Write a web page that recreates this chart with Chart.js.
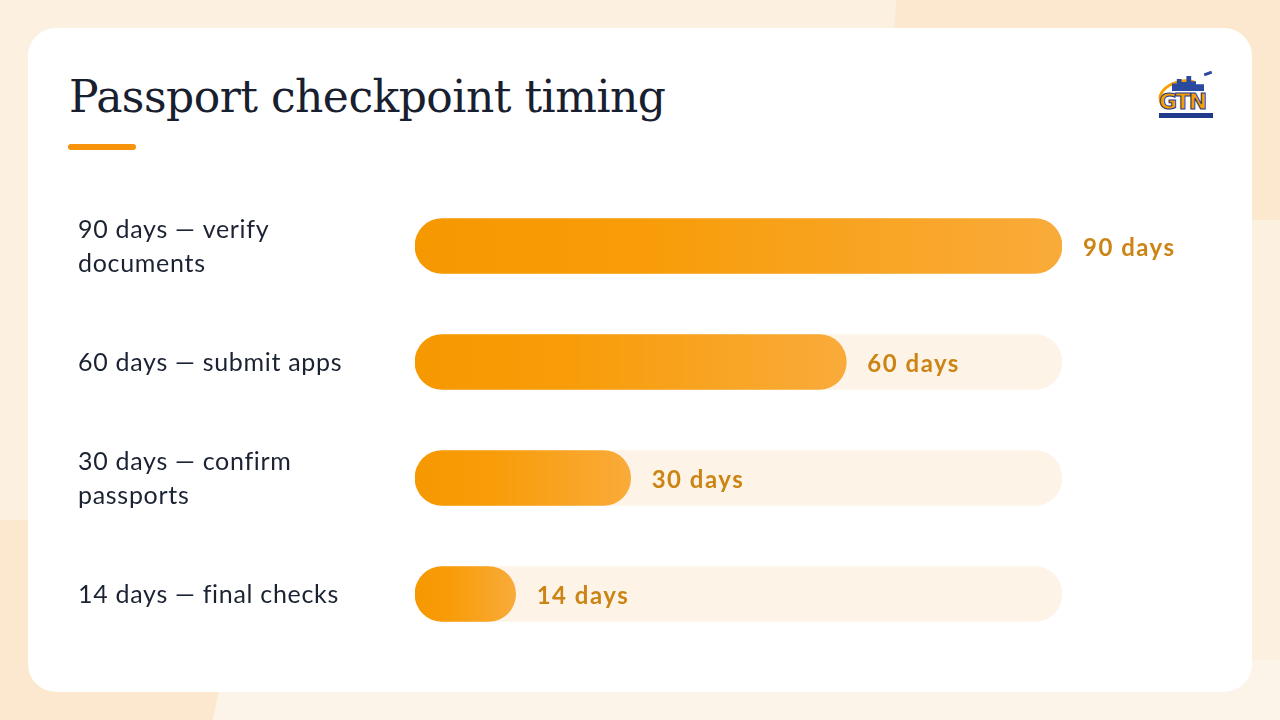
<!DOCTYPE html>
<html>
<head>
<meta charset="utf-8">
<script src="https://cdn.jsdelivr.net/npm/chart.js@4.4.1/dist/chart.umd.min.js"></script>
<style>
  html, body { margin:0; padding:0; width:1280px; height:720px; overflow:hidden; background:#fcf0e0; }
  .blob1 { position:absolute; left:890px; top:-40px; width:520px; height:260px; background:#fbe8cf; border-radius:0 0 0 60px; transform:skewX(-4deg); }
  .blob2 { position:absolute; left:-60px; top:520px; width:300px; height:260px; background:#fbe8cf; border-radius:0 60px 0 0; transform:skewX(8deg); }
  .blob3 { position:absolute; left:215px; top:660px; width:1100px; height:100px; background:#fdf4e9; transform:skewX(-12deg); }
  .card { position:absolute; left:28px; top:28px; width:1224px; height:664px; background:#ffffff; border-radius:28px; }
  .title { position:absolute; left:69px; top:71px; font-family:"DejaVu Serif", serif; font-size:44px; color:#18202f; letter-spacing:-0.5px; white-space:nowrap; }
  .rule { position:absolute; left:68px; top:144px; width:68px; height:6px; border-radius:3px; background:#f7930a; }
  .logo { position:absolute; left:1156px; top:70px; width:60px; height:52px; }
  .logo .gtn { position:absolute; left:3px; top:19px; font-family:"DejaVu Sans", sans-serif; font-weight:bold; font-size:22px; color:#f5a000; -webkit-text-stroke:1px #1f3a8a; letter-spacing:-1.5px; }
  .logo .swoosh { position:absolute; left:2px; top:10px; width:40px; height:24px; border:3px solid #f5a000; border-color:#f5a000 transparent transparent #f5a000; border-radius:50%; transform:rotate(-15deg); }
  .logo .bar { position:absolute; left:3px; top:43px; width:54px; height:5px; background:#1f3a8a; }
  .logo .city { position:absolute; left:16px; top:6px; width:32px; height:15px; background:#2a4aa0; clip-path:polygon(0 100%,0 50%,15% 50%,15% 20%,30% 20%,30% 40%,45% 40%,45% 0,60% 0,60% 35%,75% 35%,75% 55%,100% 55%,100% 100%); }
  .logo .plane { position:absolute; left:48px; top:2px; width:8px; height:3px; background:#2a4aa0; transform:rotate(-20deg); }
  canvas { position:absolute; left:0; top:0; }
</style>
</head>
<body>
<div class="blob1"></div>
<div class="blob2"></div>
<div class="blob3"></div>
<div class="card"></div>
<div class="title">Passport checkpoint timing</div>
<div class="rule"></div>
<div class="logo"><div class="swoosh"></div><div class="city"></div><div class="plane"></div><div class="gtn">GTN</div><div class="bar"></div></div>
<canvas id="c" width="1280" height="720"></canvas>
<script>
const categories = [
  ["90 days — verify", "documents"],
  ["60 days — submit apps"],
  ["30 days — confirm", "passports"],
  ["14 days — final checks"]
];
const daysValues = [90, 60, 30, 14];
const trackValues = [90, 90, 90, 90];
const valueLabels = ["90 days", "60 days", "30 days", "14 days"];
const axisMin = 0;
const axisMax = 90;

function barGradient(ctx) {
  const chart = ctx.chart;
  const area = chart.chartArea;
  if (!area || ctx.dataIndex === undefined) return '#f79c10';
  const xs = chart.scales.x;
  const x0 = xs.getPixelForValue(axisMin);
  const x1 = xs.getPixelForValue(daysValues[ctx.dataIndex]);
  const g = chart.ctx.createLinearGradient(x0, 0, x1, 0);
  g.addColorStop(0, '#f69800');
  g.addColorStop(0.35, '#f89c08');
  g.addColorStop(1, '#f9ab3a');
  return g;
}

const labelPlugin = {
  id: 'labels',
  afterDatasetsDraw(chart) {
    const c = chart.ctx;
    const xs = chart.scales.x, ys = chart.scales.y;
    c.save();
    c.textBaseline = 'middle';
    c.textAlign = 'left';
    categories.forEach((lines, i) => {
      const yc = ys.getPixelForValue(i);
      c.font = '25px Lato, "Open Sans", sans-serif';
      c.letterSpacing = '0.7px';
      c.fillStyle = '#1b2333';
      const lh = 34;
      const start = yc - (lines.length - 1) * lh / 2;
      lines.forEach((t, k) => c.fillText(t, 78, start + k * lh + 1));
      c.font = 'bold 24px Lato, "Open Sans", sans-serif';
      c.letterSpacing = '1.5px';
      c.fillStyle = '#cc8414';
      c.fillText(valueLabels[i], xs.getPixelForValue(daysValues[i]) + 21, yc + 2);
    });
    c.restore();
  }
};

new Chart(document.getElementById('c'), {
  type: 'bar',
  data: {
    labels: categories,
    datasets: [
      {
        data: daysValues,
        backgroundColor: barGradient,
        borderRadius: 28,
        borderSkipped: false,
        barThickness: 55,
        grouped: false,
        order: 1
      },
      {
        data: trackValues,
        backgroundColor: '#fdf3e7',
        borderRadius: 28,
        borderSkipped: false,
        barThickness: 55,
        grouped: false,
        order: 2
      }
    ]
  },
  options: {
    indexAxis: 'y',
    responsive: false,
    animation: false,
    layout: { padding: { left: 415, right: 218, top: 188, bottom: 68 } },
    plugins: { legend: { display: false }, tooltip: { enabled: false } },
    scales: {
      x: { min: axisMin, max: axisMax, display: false },
      y: { display: false }
    }
  },
  plugins: [labelPlugin]
});
</script>
</body>
</html>
